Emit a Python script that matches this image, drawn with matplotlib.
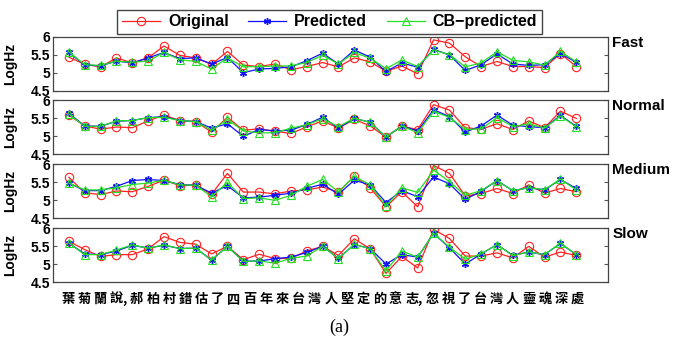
import numpy as np
import matplotlib
matplotlib.use("Agg")
import matplotlib.pyplot as plt

plt.rcParams['font.family'] = ['Liberation Sans', 'DejaVu Sans']

# syllable labels under the bottom panel (commas sit between characters)
chars = list("葉菊蘭說郝柏村錯估了四百年來台灣人堅定的意志忽視了台灣人靈魂深處")
comma_after = [3, 21]

speeds = ["Fast", "Normal", "Medium", "Slow"]
series_names = ["Original", "Predicted", "CB\u2212predicted"]

fast_orig = [5.44, 5.24, 5.17, 5.42, 5.28, 5.42, 5.75, 5.49, 5.42, 5.24, 5.60, 5.22, 5.18, 5.25, 5.09, 5.18, 5.29,
             5.17, 5.42, 5.31, 5.05, 5.19, 4.98, 5.92, 5.83, 5.45, 5.18, 5.32, 5.18, 5.18, 5.15, 5.54, 5.18]
fast_pred = [5.57, 5.22, 5.20, 5.33, 5.28, 5.42, 5.57, 5.40, 5.42, 5.25, 5.43, 5.01, 5.11, 5.13, 5.17, 5.34, 5.55,
             5.25, 5.64, 5.44, 5.04, 5.28, 5.16, 5.66, 5.50, 5.07, 5.23, 5.53, 5.25, 5.21, 5.23, 5.54, 5.30]
fast_cb = [5.59, 5.23, 5.21, 5.33, 5.30, 5.33, 5.57, 5.37, 5.32, 5.11, 5.42, 5.17, 5.18, 5.19, 5.20, 5.29, 5.49,
           5.25, 5.57, 5.41, 5.12, 5.36, 5.18, 5.64, 5.51, 5.17, 5.28, 5.59, 5.35, 5.31, 5.22, 5.60, 5.31]

normal_orig = [5.58, 5.28, 5.19, 5.25, 5.23, 5.42, 5.58, 5.43, 5.40, 5.11, 5.52, 5.16, 5.20, 5.13, 5.07, 5.25, 5.42,
               5.22, 5.46, 5.28, 4.97, 5.27, 5.18, 5.87, 5.72, 5.23, 5.19, 5.34, 5.18, 5.42, 5.23, 5.69, 5.49]
normal_pred = [5.63, 5.28, 5.27, 5.41, 5.43, 5.51, 5.54, 5.43, 5.40, 5.22, 5.34, 4.99, 5.18, 5.14, 5.16, 5.32, 5.52,
               5.22, 5.49, 5.38, 4.97, 5.28, 5.14, 5.73, 5.54, 5.11, 5.28, 5.58, 5.30, 5.26, 5.23, 5.57, 5.27]
normal_cb = [5.61, 5.27, 5.27, 5.42, 5.43, 5.51, 5.52, 5.43, 5.40, 5.16, 5.46, 5.14, 5.09, 5.09, 5.22, 5.31, 5.48,
             5.26, 5.49, 5.38, 4.97, 5.28, 5.09, 5.68, 5.52, 5.18, 5.20, 5.51, 5.26, 5.34, 5.22, 5.55, 5.26]

medium_orig = [5.63, 5.20, 5.15, 5.25, 5.23, 5.38, 5.55, 5.40, 5.41, 5.16, 5.74, 5.22, 5.22, 5.17, 5.25, 5.28, 5.36,
               5.22, 5.66, 5.34, 4.81, 5.23, 4.81, 5.96, 5.74, 5.11, 5.18, 5.32, 5.18, 5.42, 5.19, 5.32, 5.23]
medium_pred = [5.47, 5.26, 5.26, 5.38, 5.54, 5.57, 5.54, 5.43, 5.41, 5.19, 5.40, 5.06, 5.08, 5.13, 5.19, 5.32, 5.44,
               5.16, 5.55, 5.42, 4.93, 5.26, 5.09, 5.64, 5.45, 5.02, 5.24, 5.54, 5.26, 5.34, 5.28, 5.57, 5.32]
medium_cb = [5.47, 5.28, 5.28, 5.34, 5.43, 5.47, 5.55, 5.42, 5.41, 5.09, 5.49, 5.04, 5.06, 4.99, 5.13, 5.38, 5.57,
             5.23, 5.66, 5.42, 4.83, 5.34, 5.21, 5.83, 5.51, 5.13, 5.26, 5.54, 5.26, 5.34, 5.29, 5.58, 5.28]

slow_orig = [5.63, 5.40, 5.21, 5.26, 5.26, 5.42, 5.76, 5.60, 5.55, 5.28, 5.49, 5.12, 5.27, 5.15, 5.16, 5.36, 5.49,
             5.24, 5.70, 5.42, 4.74, 5.21, 4.89, 5.96, 5.71, 5.22, 5.22, 5.31, 5.17, 5.49, 5.19, 5.33, 5.24]
slow_pred = [5.58, 5.28, 5.26, 5.36, 5.52, 5.44, 5.52, 5.43, 5.44, 5.11, 5.49, 5.08, 5.08, 5.15, 5.19, 5.32, 5.49,
             5.16, 5.54, 5.43, 5.00, 5.26, 5.19, 5.85, 5.45, 5.00, 5.28, 5.54, 5.24, 5.33, 5.26, 5.57, 5.26]
slow_cb = [5.58, 5.26, 5.26, 5.39, 5.53, 5.44, 5.53, 5.43, 5.44, 5.11, 5.49, 5.07, 5.09, 5.02, 5.16, 5.22, 5.49,
           5.15, 5.55, 5.42, 4.81, 5.36, 5.19, 5.85, 5.47, 5.13, 5.28, 5.54, 5.23, 5.34, 5.26, 5.58, 5.26]

panels = [
    (fast_orig, fast_pred, fast_cb),
    (normal_orig, normal_pred, normal_cb),
    (medium_orig, medium_pred, medium_cb),
    (slow_orig, slow_pred, slow_cb),
]

styles = [
    dict(color='#ff2020', marker='o', markersize=6, markerfacecolor='none', markeredgewidth=0.8),
    dict(color='#1010ff', marker=(6, 2, 0), markersize=5, markeredgewidth=1.0),
    dict(color='#22e022', marker='^', markersize=5.5, markerfacecolor='none', markeredgewidth=0.8),
]


def main():
    fig = plt.figure(figsize=(6.74, 3.37), dpi=100)
    left, width, height = 53 / 674, 555 / 674, 54 / 337
    tops = [37, 100, 164, 228]

    x = np.arange(1, len(fast_orig) + 1)
    axes = []
    for i, (name, data) in enumerate(zip(speeds, panels)):
        ax = fig.add_axes([left, 1 - (tops[i] + 54) / 337, width, height])
        lines = []
        for vals, st, lab in zip(data, styles, series_names):
            ln, = ax.plot(x, vals, linewidth=0.9, label=lab, **st)
            lines.append(ln)
        ax.set_xlim(0, 35)
        ax.set_ylim(4.5, 6)
        ax.set_yticks([4.5, 5, 5.5, 6])
        ax.set_yticklabels(["4.5", "5", "5.5", "6"], fontweight='bold', fontsize=10)
        ax.tick_params(axis='y', direction='in', length=3, right=True, pad=2, color='#555555')
        ax.set_ylabel("LogHz", fontweight='bold', fontsize=10)
        ax.yaxis.set_label_coords(-0.065, 0.5)
        for s in ax.spines.values():
            s.set_color('#444444')
            s.set_linewidth(0.9)
        ax.text(1.008, 1.01, name, transform=ax.transAxes, ha='left', va='top',
                fontweight='bold', fontsize=11)
        axes.append(ax)
        if i < 3:
            ax.set_xticks([])

    # character labels under the last panel
    pos, labs = [], []
    n_comma = 0
    for i, ch in enumerate(chars):
        p = 0.95 + 1.02 * i + 0.25 * n_comma
        pos.append(p)
        labs.append(ch)
        if i in comma_after:
            pos.append(p + 0.5)
            labs.append(",")
            n_comma += 1
    ax = axes[-1]
    ax.set_xticks(pos)
    ax.set_xticklabels(labs, family=['Noto Sans CJK TC', 'DejaVu Sans'], fontsize=9.5, fontweight='bold')
    ax.tick_params(axis='x', length=0, pad=7)

    fig.legend(lines, series_names, loc='center', bbox_to_anchor=(0.489, 0.935), ncol=3,
               frameon=True, fancybox=False, edgecolor='#444444', framealpha=1,
               prop=dict(weight='bold', size=11.5), handlelength=2.4, columnspacing=1.2,
               handletextpad=0.5, borderpad=0.3)

    fig.text(0.503, 0.03, "(a)", family='Liberation Serif', fontsize=13, ha='center', va='center')

    fig.savefig("out.png", dpi=100)


if __name__ == "__main__":
    main()
